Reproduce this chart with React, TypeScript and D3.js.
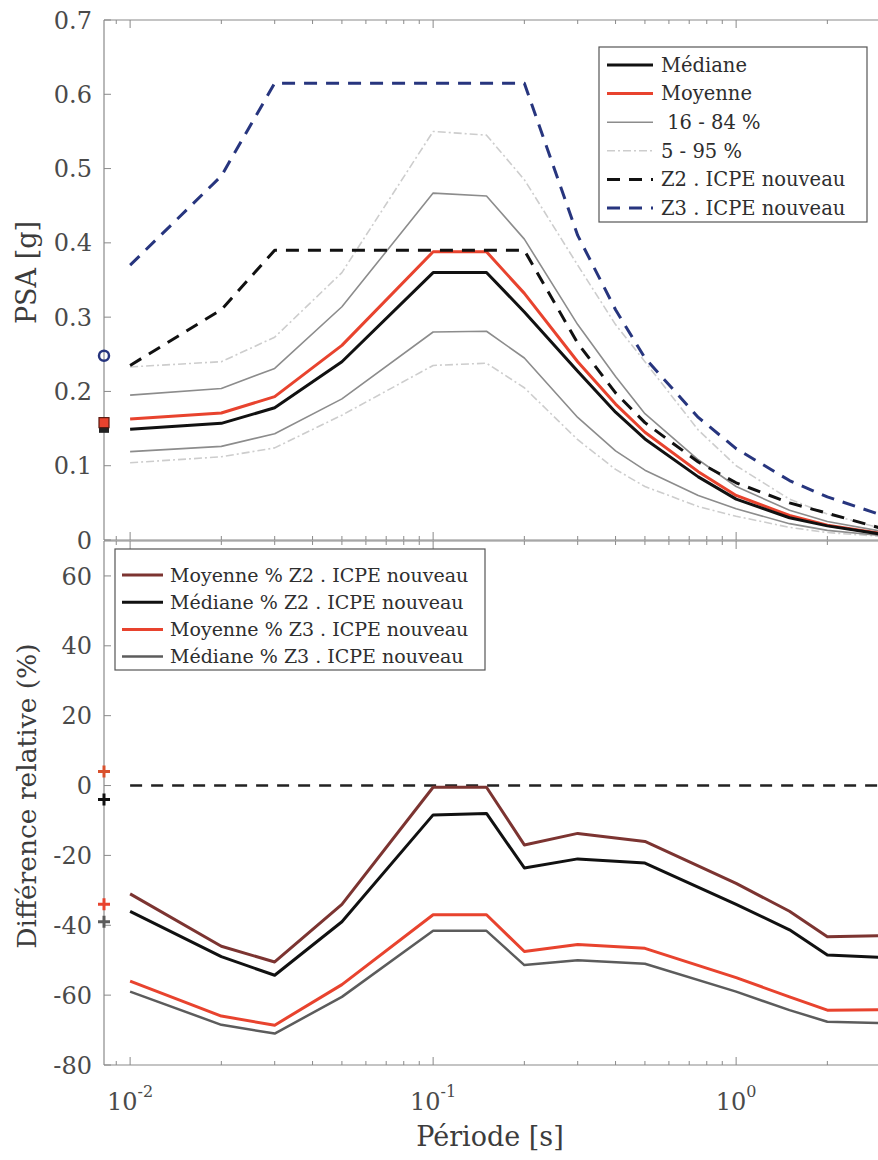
import React from 'react';
import * as d3 from 'd3';

// periods [s] used for the PSA spectra (top panel)
const periods = [0.01, 0.02, 0.03, 0.05, 0.1, 0.15, 0.2, 0.3, 0.4, 0.5, 0.75, 1, 1.5, 2, 3];
const mediane = [0.149, 0.157, 0.178, 0.24, 0.36, 0.36, 0.307, 0.227, 0.172, 0.136, 0.085, 0.055, 0.03, 0.019, 0.008];
const moyenne = [0.163, 0.171, 0.193, 0.262, 0.388, 0.388, 0.332, 0.24, 0.183, 0.145, 0.092, 0.06, 0.033, 0.02, 0.009];
const p84 = [0.195, 0.204, 0.231, 0.314, 0.467, 0.463, 0.405, 0.29, 0.22, 0.17, 0.108, 0.072, 0.04, 0.025, 0.012];
const p16 = [0.119, 0.126, 0.143, 0.19, 0.28, 0.281, 0.245, 0.165, 0.12, 0.094, 0.06, 0.042, 0.022, 0.013, 0.006];
const p95 = [0.233, 0.24, 0.273, 0.36, 0.55, 0.545, 0.485, 0.37, 0.29, 0.24, 0.148, 0.1, 0.055, 0.035, 0.016];
const p5 = [0.104, 0.112, 0.124, 0.168, 0.235, 0.238, 0.205, 0.135, 0.095, 0.072, 0.045, 0.032, 0.017, 0.01, 0.005];
const z2 = [0.235, 0.31, 0.39, 0.39, 0.39, 0.39, 0.39, 0.265, 0.198, 0.158, 0.105, 0.077, 0.05, 0.036, 0.016];
const z3 = [0.37, 0.49, 0.615, 0.615, 0.615, 0.615, 0.615, 0.41, 0.31, 0.245, 0.165, 0.123, 0.08, 0.058, 0.034];

// PGA markers drawn on the left edge
const pgaPeriod = 0.0082;
const pgaZ3 = 0.248;
const pgaMoyenne = 0.158;
const pgaMediane = 0.151;

// relative difference (%) (bottom panel)
const diffPeriods = [0.01, 0.02, 0.03, 0.05, 0.1, 0.15, 0.2, 0.3, 0.5, 1, 1.5, 2, 3];
const moyZ2 = [-31, -46, -50.5, -34, -0.5, -0.5, -17, -13.7, -16, -28, -36, -43.3, -43];
const medZ2 = [-36, -49, -54.3, -39, -8.4, -8, -23.6, -21, -22.2, -34, -41.3, -48.5, -49.2];
const moyZ3 = [-56, -66, -68.6, -57, -37, -37, -47.5, -45.5, -46.6, -55, -60.5, -64.3, -64.2];
const medZ3 = [-59, -68.5, -71, -60.5, -41.6, -41.6, -51.4, -50, -51, -59, -64.3, -67.6, -68];
const diffPga = [4, -4, -34, -39]; // moyZ2, medZ2, moyZ3, medZ3
const zeroLine = [0.01, 3];

const psaTicks = [0, 0.1, 0.2, 0.3, 0.4, 0.5, 0.6, 0.7];
const diffTicks = [-80, -60, -40, -20, 0, 20, 40, 60];
const decades = [0.01, 0.1, 1];
const decadeExp = ['-2', '-1', '0'];

const topLegend = ['Médiane', 'Moyenne', ' 16 - 84 %', '5 - 95 %', 'Z2 . ICPE nouveau', 'Z3 . ICPE nouveau'];
const bottomLegend = [
  'Moyenne % Z2 . ICPE nouveau',
  'Médiane % Z2 . ICPE nouveau',
  'Moyenne % Z3 . ICPE nouveau',
  'Médiane % Z3 . ICPE nouveau',
];

const RED = '#e8432e';
const NAVY = '#27357e';
const AXIS = '#8a8a8a';
const SERIF = 'DejaVu Serif';

const W = 878;
const H = 1160;
const left = 104;
const right = 901;

const x = d3.scaleLog().domain([pgaPeriod, 3.5]).range([left, right]);
const yTop = d3.scaleLinear().domain([0, 0.7]).range([540, 20]);
const yBot = d3.scaleLinear().domain([-80, 70]).range([1065, 541]);

const topStyles = [
  { data: p95, stroke: '#cdcdcd', w: 1.6, dash: '8 3 2 3' },
  { data: p5, stroke: '#cdcdcd', w: 1.6, dash: '8 3 2 3' },
  { data: p84, stroke: '#8c8c8c', w: 1.6, dash: '' },
  { data: p16, stroke: '#8c8c8c', w: 1.6, dash: '' },
  { data: z3, stroke: NAVY, w: 3, dash: '13 9' },
  { data: moyenne, stroke: RED, w: 3, dash: '' },
  { data: mediane, stroke: '#111', w: 3, dash: '' },
  { data: z2, stroke: '#111', w: 3, dash: '13 9' },
];

const legendTopStyles = [
  { stroke: '#111', w: 3, dash: '' },
  { stroke: RED, w: 3, dash: '' },
  { stroke: '#8c8c8c', w: 1.6, dash: '' },
  { stroke: '#cdcdcd', w: 1.6, dash: '8 3 2 3' },
  { stroke: '#111', w: 3, dash: '13 9' },
  { stroke: NAVY, w: 3, dash: '13 9' },
];

const botStyles = [
  { data: moyZ2, stroke: '#7c3431', w: 3, marker: '#d9522e' },
  { data: medZ2, stroke: '#111', w: 3, marker: '#111' },
  { data: moyZ3, stroke: RED, w: 3, marker: RED },
  { data: medZ3, stroke: '#5c5c5c', w: 2.5, marker: '#5c5c5c' },
];

function lineFor(xs: number[], y: d3.ScaleLinear<number, number>) {
  return d3
    .line<number>()
    .x((_, i) => x(xs[i]))
    .y((d) => y(d));
}

// box edges + log ticks (inward, on bottom and top edges)
function Frame({ top, bottom }: { top: number; bottom: number }) {
  const minor = x.ticks().filter((t) => !decades.includes(t));
  return (
    <g>
      <line x1={left} x2={right} y1={top} y2={top} stroke={AXIS} strokeWidth={1.2} />
      <line x1={left} x2={right} y1={bottom} y2={bottom} stroke={AXIS} strokeWidth={1.2} />
      <line x1={left} x2={left} y1={top} y2={bottom} stroke={AXIS} strokeWidth={1.2} />
      {decades.map((t) => (
        <g key={'M' + t}>
          <line x1={x(t)} x2={x(t)} y1={bottom} y2={bottom - 8} stroke={AXIS} />
          <line x1={x(t)} x2={x(t)} y1={top} y2={top + 8} stroke={AXIS} />
        </g>
      ))}
      {minor.map((t) => (
        <g key={'m' + t}>
          <line x1={x(t)} x2={x(t)} y1={bottom} y2={bottom - 4} stroke={AXIS} />
          <line x1={x(t)} x2={x(t)} y1={top} y2={top + 4} stroke={AXIS} />
        </g>
      ))}
    </g>
  );
}

export default function App() {
  const rowsTop = d3.range(topLegend.length).map((i) => 65 + i * 28.6);
  const rowsBot = d3.range(bottomLegend.length).map((i) => 575 + i * 27.2);
  const lineBot = lineFor(diffPeriods, yBot);
  const lineTop = lineFor(periods, yTop);

  return (
    <svg
      width={W}
      height={H}
      style={{ position: 'absolute', left: 0, top: 0, background: '#fff' }}
      fontFamily={SERIF}
    >
      {/* ---------- top panel ---------- */}
      <Frame top={20} bottom={540} />
      {psaTicks.map((t) => (
        <g key={'yt' + t}>
          <line x1={left} x2={left + 7} y1={yTop(t)} y2={yTop(t)} stroke={AXIS} />
          <text x={92} y={yTop(t)} dy="0.36em" textAnchor="end" fontSize={24} fill="#4a4a4a">
            {t === 0 ? '0' : t.toFixed(1)}
          </text>
        </g>
      ))}
      <text
        transform={`translate(36,${yTop(0.36)}) rotate(-90)`}
        textAnchor="middle"
        fontSize={27}
        fill="#3c3c3c"
      >
        PSA [g]
      </text>

      {topStyles.map((s, i) => (
        <path
          key={'tp' + i}
          d={lineTop(s.data) || ''}
          fill="none"
          stroke={s.stroke}
          strokeWidth={s.w}
          strokeDasharray={s.dash}
          strokeLinejoin="round"
        />
      ))}

      <circle cx={x(pgaPeriod)} cy={yTop(pgaZ3)} r={5} fill="none" stroke={NAVY} strokeWidth={2.5} />
      <rect x={x(pgaPeriod) - 5} y={yTop(pgaMediane) - 5} width={10} height={10} fill="#222" />
      <rect x={x(pgaPeriod) - 5} y={yTop(pgaMoyenne) - 5} width={10} height={10} fill={RED} stroke="#5a1a10" strokeWidth={1.2} />

      <rect x={599} y={47} width={268} height={175} fill="#fff" stroke="#555" strokeWidth={1.2} />
      {topLegend.map((lab, i) => (
        <g key={'lt' + i}>
          <line
            x1={607}
            x2={653}
            y1={rowsTop[i]}
            y2={rowsTop[i]}
            stroke={legendTopStyles[i].stroke}
            strokeWidth={legendTopStyles[i].w}
            strokeDasharray={legendTopStyles[i].dash}
          />
          <text x={661} y={rowsTop[i]} dy="0.35em" fontSize={19.5} fill="#2e2e2e" style={{ whiteSpace: 'pre' }}>
            {lab}
          </text>
        </g>
      ))}

      {/* ---------- bottom panel ---------- */}
      <Frame top={541} bottom={1065} />
      {diffTicks.map((t) => (
        <g key={'yb' + t}>
          <line x1={left} x2={left + 7} y1={yBot(t)} y2={yBot(t)} stroke={AXIS} />
          <text x={92} y={yBot(t)} dy="0.36em" textAnchor="end" fontSize={24} fill="#4a4a4a">
            {t}
          </text>
        </g>
      ))}
      {decades.map((t, i) => (
        <text key={'xl' + t} x={x(t)} y={1110} textAnchor="middle" fontSize={24} fill="#4a4a4a">
          10
          <tspan fontSize={16} dy={-13}>
            {decadeExp[i]}
          </tspan>
        </text>
      ))}
      <text x={490} y={1146} textAnchor="middle" fontSize={27} fill="#3c3c3c">
        Période [s]
      </text>
      <text
        transform={`translate(36,${yBot(-3)}) rotate(-90)`}
        textAnchor="middle"
        fontSize={26.5}
        fill="#3c3c3c"
      >
        Différence relative (%)
      </text>

      <path
        d={lineFor(zeroLine, yBot)([0, 0]) || ''}
        fill="none"
        stroke="#222"
        strokeWidth={2.5}
        strokeDasharray="12 9"
      />
      {botStyles.map((s, i) => (
        <path
          key={'bp' + i}
          d={lineBot(s.data) || ''}
          fill="none"
          stroke={s.stroke}
          strokeWidth={s.w}
          strokeLinejoin="round"
        />
      ))}
      {diffPga.map((v, i) => (
        <path
          key={'pg' + i}
          d={`M${x(pgaPeriod) - 6},${yBot(v)}h12M${x(pgaPeriod)},${yBot(v) - 6}v12`}
          stroke={botStyles[i].marker}
          strokeWidth={3}
        />
      ))}

      <rect x={115} y={549} width={370} height={121} fill="#fff" stroke="#555" strokeWidth={1.2} />
      {bottomLegend.map((lab, i) => (
        <g key={'lb' + i}>
          <line x1={122} x2={163} y1={rowsBot[i]} y2={rowsBot[i]} stroke={botStyles[i].stroke} strokeWidth={botStyles[i].w} />
          <text x={170} y={rowsBot[i]} dy="0.35em" fontSize={19} fill="#2e2e2e">
            {lab}
          </text>
        </g>
      ))}
    </svg>
  );
}
